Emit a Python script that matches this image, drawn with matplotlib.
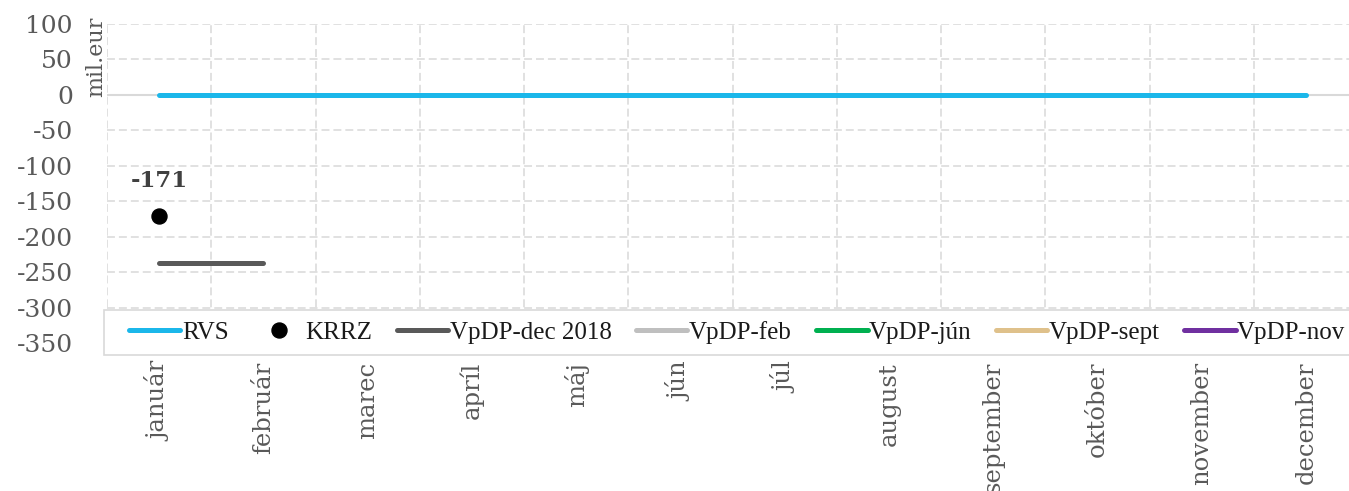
import numpy as np
import matplotlib
matplotlib.use("Agg")
import matplotlib.pyplot as plt
from matplotlib.patches import Rectangle
from matplotlib.ticker import FixedLocator

nan = np.nan
months = ['január', 'február', 'marec', 'apríl', 'máj', 'jún', 'júl',
          'august', 'september', 'október', 'november', 'december']
rvs = [0, 0, 0, 0, 0, 0, 0, 0, 0, 0, 0, 0]
krrz = [-171, nan, nan, nan, nan, nan, nan, nan, nan, nan, nan, nan]
vpdp_dec2018 = [-237, -237, nan, nan, nan, nan, nan, nan, nan, nan, nan, nan]
vpdp_feb = [nan] * 12
vpdp_jun = [nan] * 12
vpdp_sept = [nan] * 12
vpdp_nov = [nan] * 12
krrz_label = '-171'
y_ticks = [100, 50, 0, -50, -100, -150, -200, -250, -300, -350]

W, H = 1349, 491
fig = plt.figure(figsize=(W / 100, H / 100), dpi=100)
ax = fig.add_axes([107 / W, 1 - 343.2 / H, 1251 / W, (343.2 - 23.7) / H])

x = np.arange(len(months))
lw = 3.6
grey_txt = '#595959'

ax.plot(x, rvs, color='#1bb7ea', lw=lw, solid_capstyle='round', label='RVS', zorder=4)
ax.plot(x, krrz, linestyle='none', marker='o', markersize=10.8, color='black',
        label='KRRZ', zorder=5)
ax.plot(x, vpdp_dec2018, color='#595959', lw=lw, solid_capstyle='round',
        label='VpDP-dec 2018', zorder=4)
ax.plot(x, vpdp_feb, color='#bfbfbf', lw=lw, solid_capstyle='round', label='VpDP-feb')
ax.plot(x, vpdp_jun, color='#00b050', lw=lw, solid_capstyle='round', label='VpDP-jún')
ax.plot(x, vpdp_sept, color='#dfc18b', lw=lw, solid_capstyle='round', label='VpDP-sept')
ax.plot(x, vpdp_nov, color='#7030a0', lw=lw, solid_capstyle='round', label='VpDP-nov')

ax.annotate(krrz_label, (0, krrz[0]), xytext=(0, 25), textcoords='offset points',
            ha='center', va='center', fontsize=16.5, fontweight='bold',
            color='#404040', family='DejaVu Serif')

ax.set_xlim(-0.5, len(months) - 0.5)
ax.set_ylim(-350, 100)
ax.set_yticks(y_ticks)
ax.set_xticks(x)
ax.set_xticklabels(months, rotation=90, family='DejaVu Serif', fontsize=17.5, color=grey_txt)
ax.set_yticklabels([str(v) for v in y_ticks], family='DejaVu Serif', fontsize=18, color=grey_txt)
ax.xaxis.set_minor_locator(FixedLocator(np.arange(-0.5, len(months), 1.0)))
ax.tick_params(axis='x', which='both', length=0, pad=13.5)
ax.tick_params(axis='y', length=0, pad=24.5)

grid_kw = dict(color='#d9d9d9', lw=1.1, linestyle=(0, (5.2, 2.6)))
ax.grid(axis='y', which='major', **grid_kw)
ax.grid(axis='x', which='minor', **grid_kw)
ax.set_axisbelow(True)
ax.axhline(0, color='#d9d9d9', lw=1.5, zorder=2)
for s in ax.spines.values():
    s.set_visible(False)

fig.text(96 / W, 1 - 17 / H, 'mil.eur', rotation=90, ha='center', va='top',
         family='DejaVu Serif', fontsize=16, color=grey_txt)

# legend box
fig.patches.append(Rectangle((104 / W, 1 - 355 / H), (1365 - 104) / W, 45 / H,
                             transform=fig.transFigure, facecolor='white',
                             edgecolor='#d9d9d9', lw=1.2, zorder=3))
handles, labels = ax.get_legend_handles_labels()
leg = fig.legend(handles, labels, loc='center left',
                 bbox_to_anchor=(129 / W, 1 - 332.5 / H), bbox_transform=fig.transFigure,
                 ncol=7, frameon=False, borderpad=0, borderaxespad=0,
                 handlelength=2.05, handletextpad=0.06, columnspacing=0.98,
                 prop={'family': 'Liberation Serif', 'size': 18})
leg.set_zorder(6)
for t in leg.get_texts():
    t.set_color('#1a1a1a')

fig.savefig('out.png', dpi=100)
